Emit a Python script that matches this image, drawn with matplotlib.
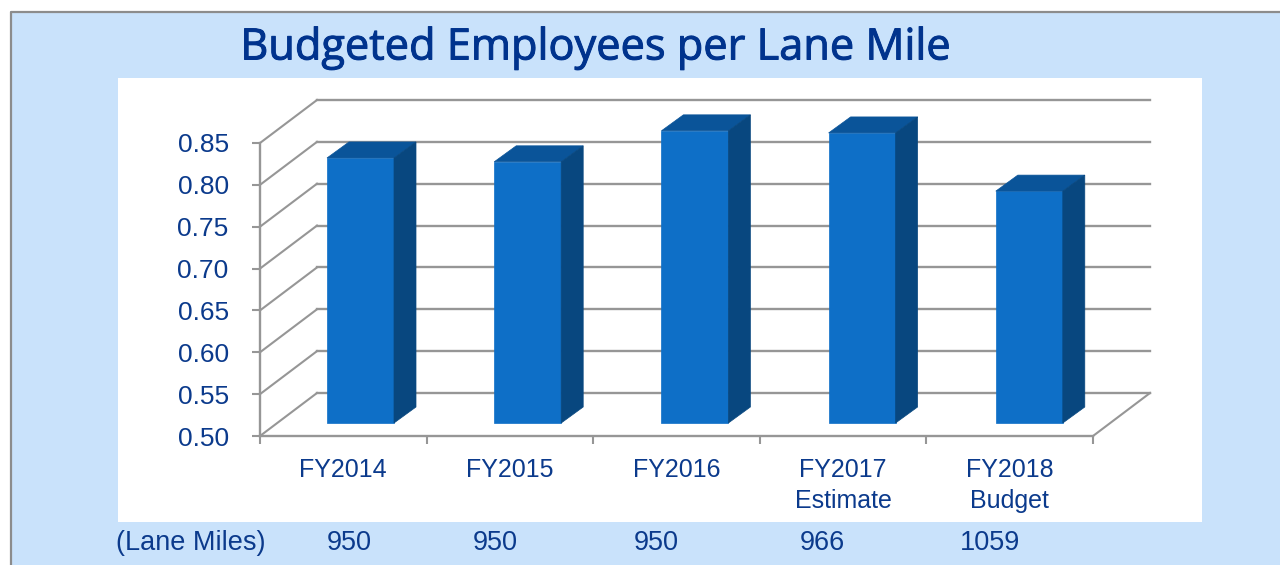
import matplotlib
matplotlib.use("Agg")
import matplotlib.pyplot as plt
import matplotlib.patheffects as pe
from matplotlib.patches import Polygon, Rectangle

categories = ["FY2014", "FY2015", "FY2016", "FY2017\nEstimate", "FY2018\nBudget"]
employees_per_mile = [0.8166, 0.812, 0.849, 0.8465, 0.777]
lane_miles = ["950", "950", "950", "966", "1059"]
lane_mile_x = [349, 495, 656, 822, 990]
y_ticks = [0.50, 0.55, 0.60, 0.65, 0.70, 0.75, 0.80, 0.85]

W, H = 1280, 565
BG = "#c9e2fb"
PANEL = "#ffffff"
INK = "#0b3a8c"
TITLE_INK = "#00338d"
GRID = "#969696"
FRONT = "#0e6fc7"
TOP = "#0a5499"
SIDE = "#08477f"

plt.rcParams["font.family"] = ["Liberation Sans", "DejaVu Sans"]
fig = plt.figure(figsize=(W / 100, H / 100), dpi=100, facecolor=BG)

def px_x(x):
    return x / W

def px_y(y):
    return 1 - y / H

# Surrounding frame and white chart panel, kept beneath the axes
fig.add_artist(Rectangle((0, 0), px_x(10), 1, transform=fig.transFigure, fc="white", ec="none", zorder=-3))
fig.add_artist(Rectangle((0, px_y(11)), 1, px_y(0) - px_y(11), transform=fig.transFigure, fc="white", ec="none", zorder=-3))
fig.add_artist(plt.Line2D([px_x(11), px_x(11), 1], [0, px_y(11.5), px_y(11.5)], transform=fig.transFigure,
                          color="#8c8c8c", lw=1.6, zorder=-2))
fig.add_artist(Rectangle((px_x(118), px_y(522)), px_x(1202 - 118), px_y(78) - px_y(522),
                         transform=fig.transFigure, fc=PANEL, ec="none", zorder=-2))

# Axes cover the front plane of the pseudo-3D box
left, right, bottom, top = 260, 1093, 436, 143
ax = fig.add_axes([px_x(left), px_y(bottom), px_x(right - left), px_y(top) - px_y(bottom)])
ax.patch.set_alpha(0)
ax.set_xlim(0, len(categories))
ax.set_ylim(0.50, 0.85)

x_per_px = len(categories) / (right - left)
y_per_px = 0.35 / (bottom - top)
wall_dx, wall_dy = 57 * x_per_px, 43 * y_per_px
bar_inset_dy = 13 * y_per_px
bar_inset_dx = 67 * x_per_px
bar_step = 167.2 * x_per_px
bar_w = 67 * x_per_px
bar_dx, bar_dy = 22 * x_per_px, 16 * y_per_px

# Back wall gridlines with their diagonal connectors to the front plane
for v in y_ticks:
    ax.plot([0, wall_dx], [v, v + wall_dy], color=GRID, lw=1.5, clip_on=False, zorder=1)
    ax.plot([wall_dx, len(categories) + wall_dx], [v + wall_dy, v + wall_dy],
            color=GRID, lw=1.7, clip_on=False, zorder=1)
ax.plot([len(categories), len(categories) + wall_dx], [0.50, 0.50 + wall_dy],
        color=GRID, lw=1.5, clip_on=False, zorder=1)

# Bars stand on the raised floor, so every face is lifted by the same inset
for i, v in enumerate(employees_per_mile):
    x0 = i * bar_step + bar_inset_dx
    x1 = x0 + bar_w
    base = 0.50 + bar_inset_dy
    head = v + bar_inset_dy
    ax.add_patch(Polygon([(x0, base), (x1, base), (x1, head), (x0, head)],
                         fc=FRONT, ec=FRONT, lw=0.5, clip_on=False, zorder=3))
    ax.add_patch(Polygon([(x0, head), (x1, head), (x1 + bar_dx, head + bar_dy), (x0 + bar_dx, head + bar_dy)],
                         fc=TOP, ec=TOP, lw=0.5, clip_on=False, zorder=3))
    ax.add_patch(Polygon([(x1, base), (x1 + bar_dx, base + bar_dy), (x1 + bar_dx, head + bar_dy), (x1, head)],
                         fc=SIDE, ec=SIDE, lw=0.5, clip_on=False, zorder=3))

for side in ("top", "right"):
    ax.spines[side].set_visible(False)
for side in ("left", "bottom"):
    ax.spines[side].set_color(GRID)
    ax.spines[side].set_linewidth(1.7)

ax.set_yticks(y_ticks, [f"{v:.2f}" for v in y_ticks])
ax.set_xticks(range(len(categories) + 1), [""] * (len(categories) + 1))
ax.set_xticks([i + 0.5 for i in range(len(categories))], categories, minor=True, linespacing=1.38)
ax.tick_params(axis="y", length=6, width=1.5, color=GRID, labelcolor=INK, labelsize=19, pad=16.5)
ax.tick_params(axis="x", which="major", length=6, width=1.5, color=GRID)
ax.tick_params(axis="x", which="minor", length=0, labelcolor=INK, labelsize=18, pad=15.5)

# Title, thickened slightly with a stroke, and the lane-mile row beneath the panel
title = fig.text(px_x(595.5), px_y(48), "Budgeted Employees per Lane Mile", ha="center", va="center",
                 color=TITLE_INK, fontsize=31.2, family=["Open Sans", "DejaVu Sans"])
title.set_path_effects([pe.withStroke(linewidth=0.7, foreground=TITLE_INK)])
fig.text(px_x(191), px_y(543), "(Lane Miles)", ha="center", va="center", color=INK, fontsize=19.5)
for x, label in zip(lane_mile_x, lane_miles):
    fig.text(px_x(x), px_y(543), label, ha="center", va="center", color=INK, fontsize=19.5)

fig.savefig("out.png", dpi=100, facecolor=fig.get_facecolor())
